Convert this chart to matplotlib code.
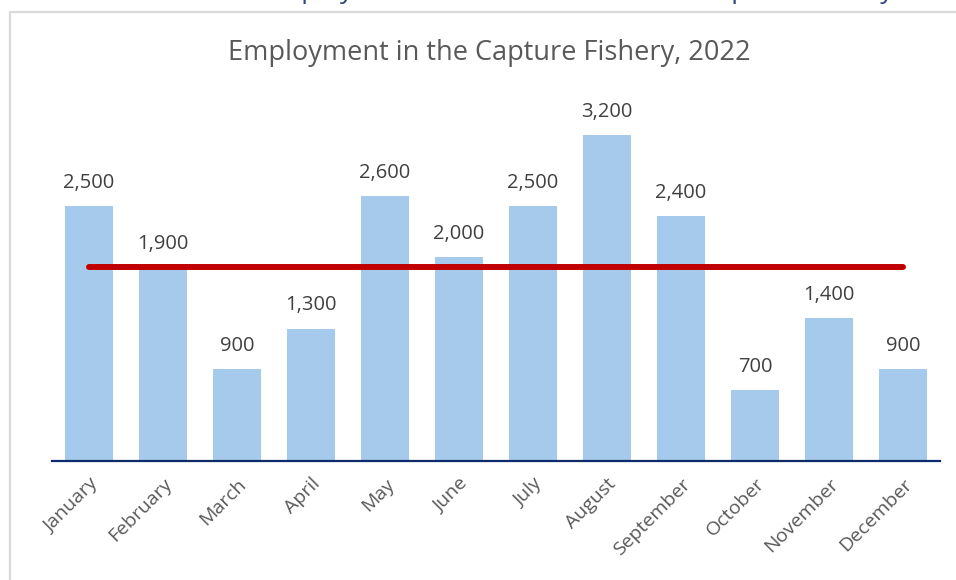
import matplotlib
matplotlib.use("Agg")
from matplotlib import pyplot as plt
from matplotlib.patches import Rectangle

months = ["January", "February", "March", "April", "May", "June",
          "July", "August", "September", "October", "November", "December"]
employment = [2500, 1900, 900, 1300, 2600, 2000, 2500, 3200, 2400, 700, 1400, 900]
reference_level = 1900
chart_title = "Employment in the Capture Fishery, 2022"

plt.rcParams["font.family"] = ["Open Sans", "DejaVu Sans"]

W, H = 956, 580
fig = plt.figure(figsize=(W / 100, H / 100), dpi=100)

# chart frame, runs off the right and bottom edges
fig.patches.append(Rectangle((10 / W, -0.2), 1.2, 1.2 - 12 / H, transform=fig.transFigure,
                             facecolor="none", edgecolor="#d9d9d9", lw=1.6))

# heading above the frame, only its descenders show
fig.text(262 / W, 1 + 2 / H, "Employment in the", color="#2f4a7f", fontsize=19,
         ha="left", va="baseline")
fig.text(700 / W, 1 + 2 / H, "Capture Fishery", color="#2f4a7f", fontsize=19,
         ha="left", va="baseline")

ax = fig.add_axes([52 / W, (H - 461) / H, 888 / W, 0.6148])
x = range(len(months))
ax.bar(x, employment, width=0.66, color="#a6caec", zorder=2)
ax.plot([0, len(months) - 1], [reference_level, reference_level], color="#c00000",
        lw=4.3, solid_capstyle="round", zorder=3)

for i, v in enumerate(employment):
    ax.annotate(f"{v:,}", (i, v), xytext=(0, 13), textcoords="offset points",
                ha="center", va="baseline", fontsize=14.5, color="#404040")

ax.set_xlim(-0.5, len(months) - 0.5)
ax.set_ylim(0, 3500)
ax.set_yticks([])
ax.set_xticks(list(x))
ax.set_xticklabels(months, rotation=45, ha="right", rotation_mode="anchor",
                   fontsize=14, color="#595959")
ax.tick_params(axis="x", length=0, pad=10)
for side in ["top", "left", "right"]:
    ax.spines[side].set_visible(False)
ax.spines["bottom"].set_color("#0d2a6b")
ax.spines["bottom"].set_linewidth(1.6)

fig.text(489 / W, 1 - 53 / H, chart_title, ha="center", va="center",
         fontsize=19.5, color="#595959")

fig.savefig("out.png", dpi=100)
